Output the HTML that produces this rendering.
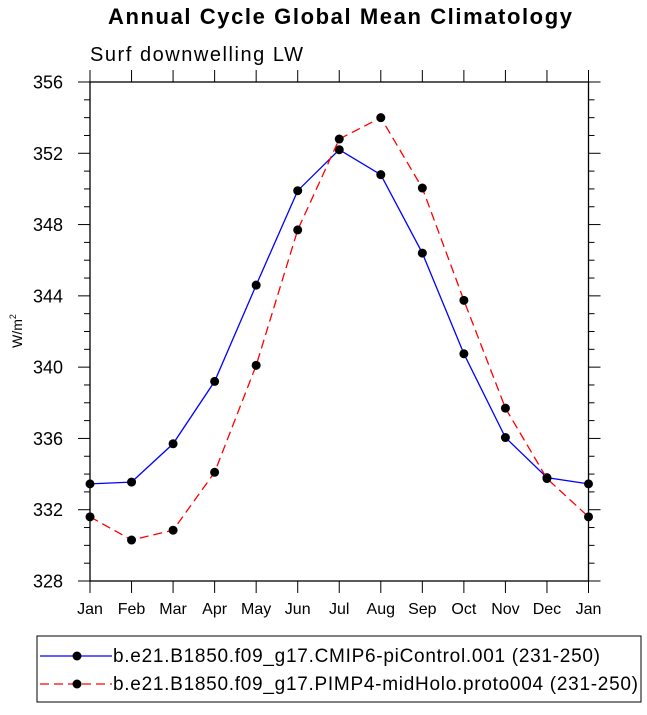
<!DOCTYPE html>
<html><head><meta charset="utf-8"><style>
body{margin:0;background:#fff;}
svg text{font-family:"Liberation Sans",Arial,sans-serif;}
</style></head><body>
<svg id="c" width="647" height="710" xmlns="http://www.w3.org/2000/svg">
<text x="340" y="24" text-anchor="middle" font-size="22" font-weight="bold" textLength="464">Annual Cycle Global Mean Climatology</text>
<text x="90" y="61" font-size="20" textLength="213">Surf downwelling LW</text>
<text transform="translate(22,331) rotate(-90)" text-anchor="middle" font-size="14">W/m<tspan dy="-6" font-size="9">2</tspan></text>
<g id="axes"></g>
<g id="series"></g>
<g>
<rect x="37" y="636" width="604" height="66" fill="#fff" stroke="#000" stroke-width="1"/>
<line x1="40" y1="656" x2="112" y2="656" stroke="#0000ff" stroke-width="1.3"/>
<circle cx="77" cy="656" r="4.5" fill="#000"/>
<text x="113" y="662" font-size="19" textLength="487">b.e21.B1850.f09_g17.CMIP6-piControl.001 (231-250)</text>
<line x1="40" y1="684" x2="112" y2="684" stroke="#ff0000" stroke-width="1.3" stroke-dasharray="9,5"/>
<circle cx="77" cy="684" r="4.5" fill="#000"/>
<text x="113" y="690" font-size="19" textLength="525">b.e21.B1850.f09_g17.PIMP4-midHolo.proto004 (231-250)</text>
</g>
</svg>
<script>
const months=["Jan","Feb","Mar","Apr","May","Jun","Jul","Aug","Sep","Oct","Nov","Dec","Jan"];
const yTicks=[328,332,336,340,344,348,352,356];
const piControl=[333.45,333.55,335.7,339.2,344.6,349.9,352.2,350.8,346.4,340.75,336.05,333.8,333.45];
const midHolo=[331.6,330.3,330.85,334.1,340.1,347.7,352.8,354.0,350.05,343.75,337.7,333.75,331.6];
const X0=90,X1=588.5,Y0=581,Y1=82,YMIN=328,YMAX=356;
const xs=i=>X0+(X1-X0)*i/(months.length-1);
const ys=v=>Y0-(v-YMIN)/(YMAX-YMIN)*(Y0-Y1);
const NS="http://www.w3.org/2000/svg";
function mk(t,a,p){const e=document.createElementNS(NS,t);for(const k in a)e.setAttribute(k,a[k]);p.appendChild(e);return e;}
const ax=document.getElementById('axes');
const box=mk('rect',{x:X0,y:Y1,width:X1-X0,height:Y0-Y1,fill:'none',stroke:'#000','stroke-width':1.3},ax);


for(let v=YMIN;v<=YMAX;v++){
 const y=ys(v),maj=(v-YMIN)%4===0,l=maj?12:6;
 mk('line',{x1:X0-l,y1:y,x2:X0,y2:y,stroke:'#000','stroke-width':1},ax);
 mk('line',{x1:X1,y1:y,x2:X1+l,y2:y,stroke:'#000','stroke-width':1},ax);
}
yTicks.forEach(v=>{const t=mk('text',{x:X0-27,y:ys(v)+6.5,'text-anchor':'end','font-size':18},ax);t.textContent=v;

});
months.forEach((m,i)=>{const x=xs(i);
 mk('line',{x1:x,y1:Y0,x2:x,y2:Y0+12,stroke:'#000','stroke-width':1},ax);
 mk('line',{x1:x,y1:Y1-12,x2:x,y2:Y1,stroke:'#000','stroke-width':1},ax);
 const t=mk('text',{x:x,y:Y0+33,'text-anchor':'middle','font-size':16},ax);t.textContent=m;
 
 });
const sg=document.getElementById('series');
function draw(vals,color,dash,name){
 const pl=mk('polyline',{points:vals.map((v,i)=>xs(i)+','+ys(v)).join(' '),fill:'none',stroke:color,'stroke-width':1.3,'stroke-dasharray':dash},sg);
 
 
 vals.forEach((v,i)=>{const c=mk('circle',{cx:xs(i),cy:ys(v),r:4.5,fill:'#000'},sg);
 
 });
}
draw(piControl,'#0000ff','none','picontrol');
draw(midHolo,'#ff0000','9,5','midholo');
</script>
</body></html>
